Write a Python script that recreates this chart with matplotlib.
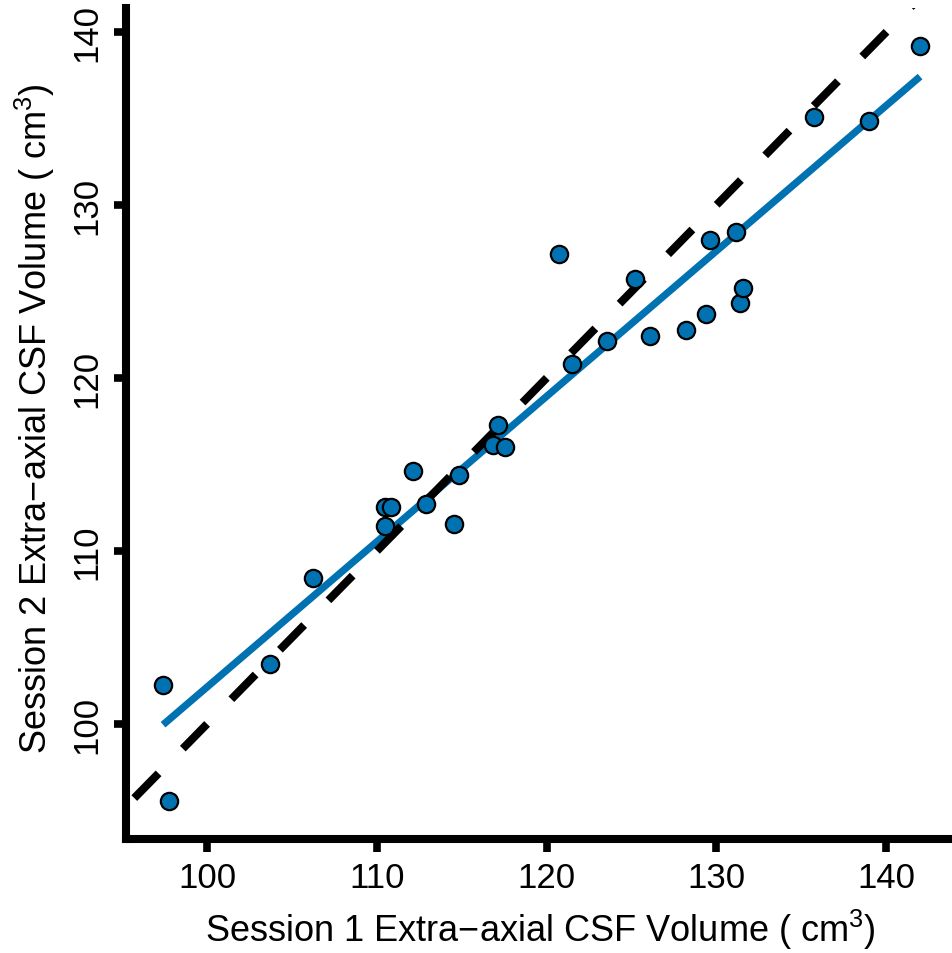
import numpy as np
import matplotlib
matplotlib.use("Agg")
import matplotlib.pyplot as plt

plt.rcParams['font.family'] = ['Liberation Sans', 'DejaVu Sans']
plt.rcParams['mathtext.default'] = 'regular'

# session volumes (cm^3)
session1 = [97.41, 97.76, 103.71, 106.24, 110.48, 110.84, 110.48, 112.13, 112.90,
            114.55, 114.84, 116.84, 117.14, 117.55, 120.73, 121.50, 123.56, 125.21,
            126.09, 128.21, 129.39, 129.62, 131.15, 131.39, 131.57, 135.76, 138.99,
            141.99]
session2 = [102.25, 95.56, 103.46, 108.43, 112.53, 112.53, 111.43, 114.60, 112.70,
            111.54, 114.37, 116.10, 117.26, 115.99, 127.19, 120.78, 122.16, 125.74,
            122.40, 122.80, 123.72, 127.99, 128.46, 124.36, 125.22, 135.09, 134.86,
            139.19]
ticks = [100, 110, 120, 130, 140]

x = np.array(session1)
y = np.array(session2)

fig = plt.figure(figsize=(9.52, 9.54), dpi=100)
ax = fig.add_axes([0.1324, 0.1195, 0.8676, 0.8711])

blue = '#0072B2'

# linear fit over the observed range
slope, icpt = np.polyfit(x, y, 1)
xx = np.array([x.min(), x.max()])
ax.plot(xx, icpt + slope * xx, color=blue, lw=5.2, solid_capstyle='butt', zorder=2)

# identity line
ax.plot([90, 150], [90, 150], color='black', lw=5.8, linestyle=(0, (4.3, 4.3)),
        dash_capstyle='butt', zorder=3)

ax.scatter(x, y, s=155, facecolor=blue, edgecolor='black', linewidth=1.6, zorder=4)

ax.set_xlim(95.23, 143.87)
ax.set_ylim(93.35, 141.39)
ax.set_xticks(ticks)
ax.set_yticks(ticks)

for side in ['top', 'right']:
    ax.spines[side].set_visible(False)
for side in ['left', 'bottom']:
    ax.spines[side].set_linewidth(5.8)
    ax.spines[side].set_capstyle('projecting')

ax.tick_params(axis='both', length=9, width=5.5, pad=7, labelsize=25, direction='out')
ax.tick_params(axis='y', labelrotation=90)
for lab in ax.get_yticklabels():
    lab.set_va('center')

fig.text(0.568, 0.0126, 'Session 1 Extra\u2212axial CSF Volume ( cm$^3$)', fontsize=26,
         ha='center', va='baseline')
fig.text(0.0494, 0.561, 'Session 2 Extra\u2212axial CSF Volume ( cm$^3$)', fontsize=26,
         ha='center', va='baseline', rotation=90, rotation_mode='anchor')

fig.savefig('out.png', dpi=100)
plt.close('all')
